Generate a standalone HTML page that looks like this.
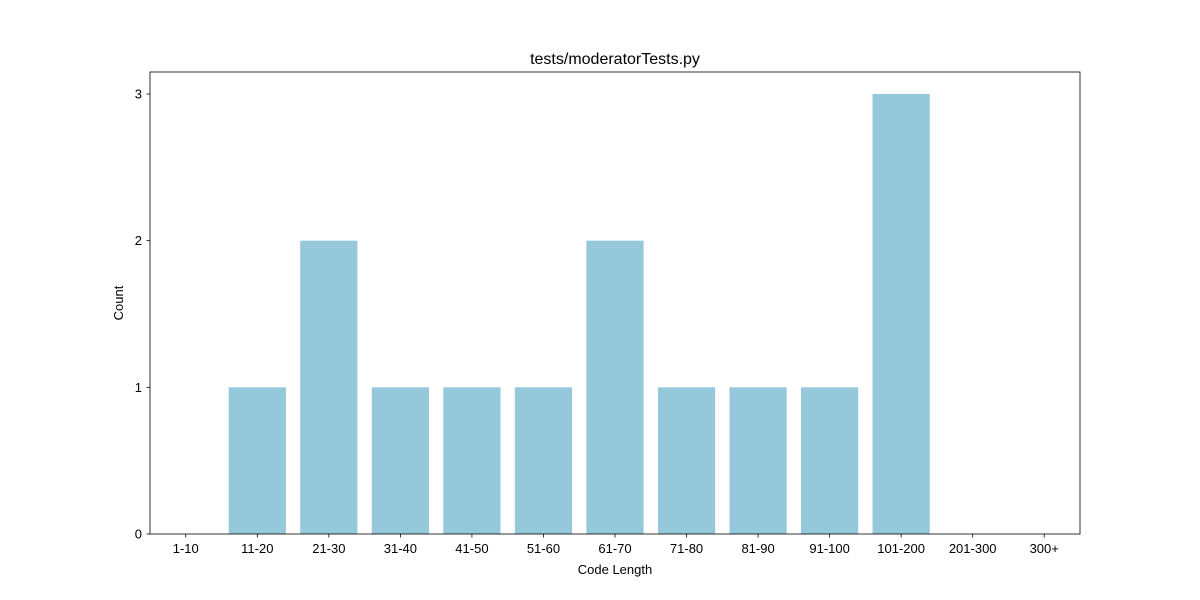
<!DOCTYPE html>
<html><head><meta charset="utf-8"><style>
body{margin:0;background:#fff;}
svg{display:block;font-family:"Liberation Sans","DejaVu Sans",sans-serif;}
</style></head><body>
<svg id="chart" width="1200" height="600"></svg>
<script>
const categories=["1-10","11-20","21-30","31-40","41-50","51-60","61-70","71-80","81-90","91-100","101-200","201-300","300+"];
const counts=[0,1,2,1,1,1,2,1,1,1,3,0,0];
const yTicks=[0,1,2,3];
const L=150,R=1080,T=72,B=534;
const xMin=-0.5,xMax=12.5,yMin=0,yMax=3.15;
const sx=v=>L+(v-xMin)/(xMax-xMin)*(R-L);
const sy=v=>B-(v-yMin)/(yMax-yMin)*(B-T);
const NS="http://www.w3.org/2000/svg";
const svg=document.getElementById('chart');
function mk(tag,attrs,parent){const e=document.createElementNS(NS,tag);for(const k in attrs)e.setAttribute(k,attrs[k]);(parent||svg).appendChild(e);return e;}
const bw=0.8;
categories.forEach((c,i)=>{
  const v=counts[i];
  const r=mk('rect',{x:sx(i-bw/2),y:sy(v),width:sx(i+bw/2)-sx(i-bw/2),height:sy(0)-sy(v),fill:'#96c8dc'});
  
  
  const t=mk('line',{x1:sx(i),x2:sx(i),y1:B,y2:B+3.5,stroke:'#000','stroke-width':0.8});
  
  
  const l=mk('text',{x:sx(i),y:B+19,'text-anchor':'middle','font-size':13});
  l.textContent=c;
  
  
});
yTicks.forEach(v=>{
  const t=mk('line',{x1:L-3.5,x2:L,y1:sy(v),y2:sy(v),stroke:'#000','stroke-width':0.8});
  
  
  const l=mk('text',{x:L-8,y:sy(v)+4.5,'text-anchor':'end','font-size':13});
  l.textContent=v;
  
  
});
const frame=mk('rect',{x:L,y:T,width:R-L,height:B-T,fill:'none',stroke:'#000','stroke-width':0.8});


const title=mk('text',{x:(L+R)/2,y:64,'text-anchor':'middle','font-size':16});
title.textContent='tests/moderatorTests.py';


const xt=mk('text',{x:(L+R)/2,y:574,'text-anchor':'middle','font-size':13});
xt.textContent='Code Length';


const yt=mk('text',{x:0,y:0,'text-anchor':'middle','font-size':13,transform:'translate(123,'+((T+B)/2)+') rotate(-90)'});
yt.textContent='Count';


</script>
</body></html>
